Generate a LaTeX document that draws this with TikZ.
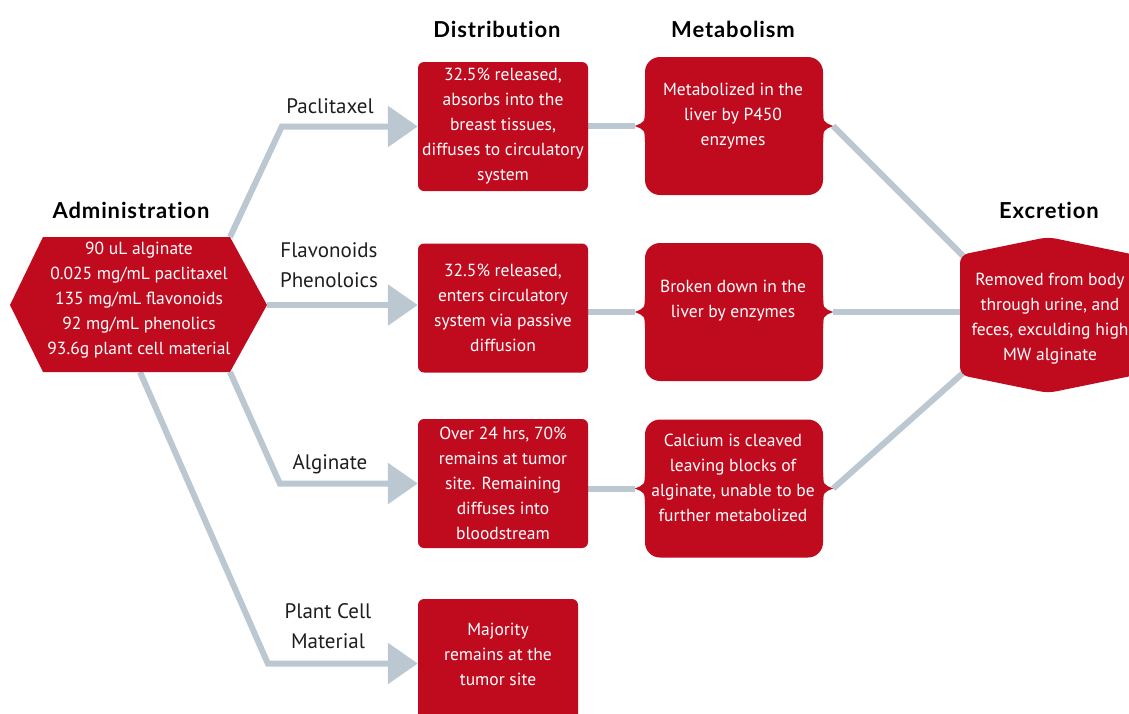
\documentclass[tikz,border=0pt]{standalone}
\usepackage{fontspec}
\setmainfont{PT Sans}
\newfontfamily\headfont[LetterSpace=4,Ligatures=NoCommon]{Lato}
\usepackage{tikz}
\usetikzlibrary{arrows.meta,positioning,calc,backgrounds}
\definecolor{admred}{RGB}{192,11,31}
\definecolor{linkgray}{RGB}{187,199,209}
\definecolor{labelink}{RGB}{30,30,30}

\begin{document}
\begin{tikzpicture}[x=1pt,y=-1pt,
  font=\fontsize{17.5}{25}\selectfont,
  heading/.style={font=\headfont\fontsize{22}{25}\selectfont\bfseries,text=black},
  route/.style={font=\fontsize{21}{30}\selectfont,text=labelink,align=center},
  boxtext/.style={text=white,align=center,inner sep=0pt},
  distbox/.style={fill=admred,rounded corners=6pt,minimum width=170pt,minimum height=129pt,text=white,align=center,inner sep=0pt},
  metbox/.style={fill=admred,rounded corners=15pt,minimum width=178pt,minimum height=138pt,inner sep=0pt},
  link/.style={draw=linkgray,line width=6pt},
  feed/.style={link,-{Triangle[length=30pt,width=40pt]}}]

\path[use as bounding box] (0,0) rectangle (1129,713);
\clip (0,0) rectangle (1129,713);
\node[heading] (hadm) at (131,210) {Administration};
\node[heading] (hdist) at (497,29) {Distribution};
\node[heading] (hmet) at (733,29) {Metabolism};
\node[heading] (hexc) at (1049,210) {Excretion};
\fill[admred] (10,305) coordinate (admw) -- (43,237) coordinate (admnw) -- (230,237) coordinate (admne)
  -- (267,305) coordinate (adme) -- (230,372) coordinate (admse) -- (43,372) coordinate (admsw) -- cycle;
\coordinate (admsm) at (140,372);
\node[boxtext] (adm) at (139,300.5)
  {90 uL alginate\\0.025 mg/mL paclitaxel\\135 mg/mL flavonoids\\92 mg/mL phenolics\\93.6g plant cell material};
\node[distbox] (dpac) at (503,126.5)
  {32.5\% released,\\absorbs into the\\breast tissues,\\diffuses to circulatory\\system};
\node[distbox] (dflav) at (503,308)
  {32.5\% released,\\enters circulatory\\system via passive\\diffusion};
\node[distbox] (dalg) at (503,483.5)
  {Over 24 hrs, 70\%\\remains at tumor\\site. Remaining\\diffuses into\\bloodstream};
\node[distbox,minimum width=160pt] (dplant) at (498,663.5) {};
\node[boxtext] (dplanttxt) at (498,654) {Majority\\remains at the\\tumor site};
\node[metbox] (mpac) at (734,126) {};
\node[metbox] (mflav) at (734,312) {};
\node[metbox] (malg) at (734,488.5) {};
\foreach \m in {mpac,mflav,malg}{
  \fill[admred] ([yshift=16pt]\m.west) .. controls ([yshift=4pt]\m.west) .. ([xshift=-10pt]\m.west) coordinate (\m-in)
    .. controls ([yshift=-4pt]\m.west) .. ([yshift=-16pt]\m.west) -- cycle;
  \fill[admred] ([yshift=16pt]\m.east) .. controls ([yshift=4pt]\m.east) .. ([xshift=10pt]\m.east) coordinate (\m-out)
    .. controls ([yshift=-4pt]\m.east) .. ([yshift=-16pt]\m.east) -- cycle;
}
\node[boxtext] (mpactxt) at (733,116) {Metabolized in the\\liver by P450\\enzymes};
\node[boxtext] (mflavtxt) at (733,300.5) {Broken down in the\\liver by enzymes};
\node[boxtext] (malgtxt) at (733,477.5) {Calcium is cleaved\\leaving blocks of\\alginate, unable to be\\further metabolized};
\fill[admred,rounded corners=8pt] (960,255) -- (1048,237) -- (1136,255) -- (1136,375) -- (1048,393) -- (960,375) -- cycle;
\coordinate (excnw) at (963,256);
\coordinate (excw) at (960,312);
\coordinate (excsw) at (963,373);
\node[boxtext] (exc) at (1050,318.5)
  {Removed from body\\through urine, and\\feces, exculding high\\MW alginate};
\node[route] (lpac) at (330,106) {Paclitaxel};
\node[route] (lflav) at (329,265.5) {Flavonoids\\Phenoloics};
\node[route] (lalg) at (330,464) {Alginate};
\node[route] (lplant) at (328,626.5) {Plant Cell\\Material};
\begin{pgfonlayer}{background}
\draw[feed] (admne) -- ([xshift=-136pt]dpac.west) -- (dpac.west);
\draw[feed] (adme) -- (adme -| dflav.west);
\draw[feed] (admse) -- ([xshift=-138pt]dalg.west) -- (dalg.west);
\draw[feed] (admsm) -- ([xshift=-150pt]dplant.west) -- (dplant.west);
\draw[link] (dpac.east |- mpac-in) -- (mpac-in);
\draw[link] (dflav.east |- mflav-in) -- (mflav-in);
\draw[link] (dalg.east |- malg-in) -- (malg-in);
\draw[link] (mpac-out) -- (excnw);
\draw[link] (mflav-out) -- (mflav-out -| excw);
\draw[link] (malg-out) -- (excsw);
\end{pgfonlayer}

\end{tikzpicture}
\end{document}
